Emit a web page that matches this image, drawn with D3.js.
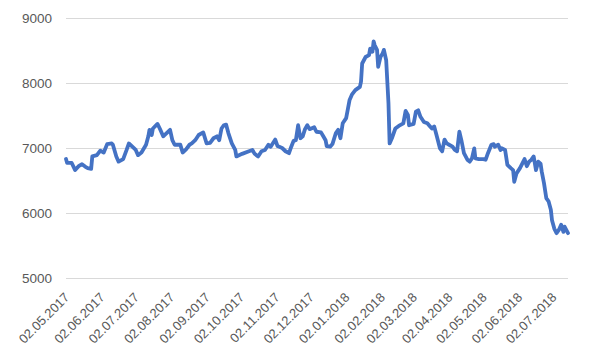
<!DOCTYPE html>
<html>
<head>
<meta charset="utf-8">
<script src="https://cdn.jsdelivr.net/npm/d3@7"></script>
<style>
  body { margin: 0; background: #fff; }
  #area text { font-family: "Liberation Sans", Arial, sans-serif; fill: #595959; }
</style>
</head>
<body>
<div id="area"></div>
<script>
var width = 600, height = 360;
var margin_top = 18, margin_left = 66, margin_right = 32, margin_bottom = 82;

// values
var dates = [
  "2017-05-02","2017-05-03","2017-05-07","2017-05-10","2017-05-13","2017-05-16","2017-05-19","2017-05-21","2017-05-24","2017-05-25",
  "2017-05-29","2017-06-01","2017-06-04","2017-06-07","2017-06-11","2017-06-12","2017-06-15","2017-06-17","2017-06-21","2017-06-24",
  "2017-06-26","2017-06-29","2017-07-02","2017-07-04","2017-07-07","2017-07-11","2017-07-13","2017-07-14","2017-07-16","2017-07-17",
  "2017-07-21","2017-07-23","2017-07-26","2017-07-29","2017-08-01","2017-08-03","2017-08-05","2017-08-10","2017-08-12","2017-08-15",
  "2017-08-18","2017-08-20","2017-08-23","2017-08-26","2017-08-30","2017-09-02","2017-09-05","2017-09-08","2017-09-11","2017-09-13",
  "2017-09-15","2017-09-17","2017-09-19","2017-09-21","2017-09-24","2017-09-27","2017-09-28","2017-10-03","2017-10-09","2017-10-12",
  "2017-10-14","2017-10-17","2017-10-20","2017-10-23","2017-10-26","2017-10-28","2017-11-01","2017-11-03","2017-11-07","2017-11-10",
  "2017-11-13","2017-11-15","2017-11-17","2017-11-19","2017-11-21","2017-11-23","2017-11-25","2017-11-27","2017-11-29","2017-12-01",
  "2017-12-05","2017-12-07","2017-12-11","2017-12-13","2017-12-15","2017-12-16","2017-12-19","2017-12-21","2017-12-24","2017-12-26",
  "2017-12-28","2017-12-30","2018-01-02","2018-01-05","2018-01-07","2018-01-10","2018-01-14","2018-01-15","2018-01-16","2018-01-19",
  "2018-01-22","2018-01-23","2018-01-25","2018-01-26","2018-01-27","2018-01-29","2018-01-30","2018-02-01","2018-02-03","2018-02-04",
  "2018-02-06","2018-02-08","2018-02-09","2018-02-11","2018-02-14","2018-02-17","2018-02-21","2018-02-23","2018-02-25","2018-02-26",
  "2018-03-02","2018-03-04","2018-03-06","2018-03-08","2018-03-11","2018-03-14","2018-03-16","2018-03-18","2018-03-20","2018-03-22",
  "2018-03-25","2018-03-27","2018-03-29","2018-03-31","2018-04-02","2018-04-05","2018-04-07","2018-04-09","2018-04-11","2018-04-13",
  "2018-04-15","2018-04-18","2018-04-20","2018-04-22","2018-04-24","2018-04-25","2018-04-28","2018-05-02","2018-05-04","2018-05-06",
  "2018-05-09","2018-05-11","2018-05-12","2018-05-15","2018-05-17","2018-05-18","2018-05-21","2018-05-23","2018-05-26","2018-05-28",
  "2018-05-29","2018-05-31","2018-06-03","2018-06-05","2018-06-07","2018-06-09","2018-06-11","2018-06-13","2018-06-15","2018-06-17",
  "2018-06-19","2018-06-21","2018-06-22","2018-06-24","2018-06-26","2018-06-28","2018-06-30","2018-07-01","2018-07-03","2018-07-05",
  "2018-07-07","2018-07-09","2018-07-11","2018-07-12","2018-07-15"
];
var values = [
  6830,6770,6770,6660,6720,6750,6710,6690,6680,6870,
  6890,6960,6930,7060,7070,7050,6870,6790,6830,6970,
  7070,7020,6970,6890,6930,7050,7180,7280,7200,7300,
  7370,7300,7180,7230,7280,7120,7050,7050,6930,6980,
  7050,7070,7120,7200,7240,7070,7080,7150,7180,7120,
  7300,7350,7360,7230,7070,6970,6870,6910,6950,6970,
  6910,6870,6950,6970,7050,7020,7130,7030,7000,6950,
  6920,7020,7110,7120,7350,7150,7180,7290,7350,7290,
  7320,7250,7240,7180,7120,7030,7020,7060,7230,7280,
  7150,7380,7460,7740,7820,7890,7940,8020,8300,8400,
  8430,8530,8480,8640,8580,8510,8250,8400,8460,8510,
  8350,7690,7070,7150,7300,7340,7380,7570,7510,7350,
  7370,7560,7580,7480,7400,7380,7340,7300,7330,7200,
  6995,6950,7130,7070,7050,7020,6970,6950,7250,7100,
  6920,6820,6790,6840,6995,6840,6830,6830,6820,6920,
  7050,7060,7020,7050,6970,6995,6970,6740,6690,6660,
  6480,6610,6690,6760,6830,6720,6790,6820,6870,6660,
  6790,6760,6640,6460,6230,6180,6050,5890,5760,5690,
  5740,5820,5710,5790,5690
];
var yTicks = [5000, 6000, 7000, 8000, 9000];
var tickDates = ["2017-05-02","2017-06-02","2017-07-02","2017-08-02","2017-09-02","2017-10-02","2017-11-02",
                 "2017-12-02","2018-01-02","2018-02-02","2018-03-02","2018-04-02","2018-05-02","2018-06-02","2018-07-02"];
var tickLabels = ["02.05.2017","02.06.2017","02.07.2017","02.08.2017","02.09.2017","02.10.2017","02.11.2017",
                  "02.12.2017","02.01.2018","02.02.2018","02.03.2018","02.04.2018","02.05.2018","02.06.2018","02.07.2018"];

var parse = d3.timeParse("%Y-%m-%d");
var data = dates.map(function(d, i) { return { date: parse(d), value: values[i] }; });

var svg = d3.select("#area")
  .append("svg")
    .attr("width", width)
    .attr("height", height);

var x = d3.scaleTime()
  .domain([parse("2017-05-02"), parse("2018-07-15")])
  .range([margin_left, width - margin_right]);

var y = d3.scaleLinear()
  .domain([5000, 9000])
  .range([height - margin_bottom, margin_top]);

// gridlines + y labels
var yAxis = svg.append("g")
  .attr("transform", "translate(" + margin_left + ",0)")
  .call(d3.axisLeft(y).tickValues(yTicks).tickSize(-(width - margin_left - margin_right)).tickPadding(14).tickFormat(d3.format("d")));
yAxis.select(".domain").remove();
yAxis.selectAll(".tick line").attr("stroke", "#d9d9d9").attr("stroke-width", 1);
yAxis.selectAll(".tick text").style("font-size", "13.5px").attr("fill", "#595959");

// x labels, rotated
svg.append("g")
  .selectAll("text")
  .data(tickDates)
  .enter()
  .append("text")
    .attr("transform", function(d) { return "translate(" + (x(parse(d)) + 1) + "," + (height - margin_bottom + 17) + ") rotate(-45)"; })
    .attr("text-anchor", "end")
    .attr("dy", "0.35em")
    .style("font-size", "13px")
    .text(function(d, i) { return tickLabels[i]; });

var line = d3.line()
  .x(function(d) { return x(d.date); })
  .y(function(d) { return y(d.value); });

svg.append("path")
  .datum(data)
  .attr("fill", "none")
  .attr("stroke", "#4472c4")
  .attr("stroke-width", 3.8)
  .attr("stroke-linejoin", "round")
  .attr("stroke-linecap", "round")
  .attr("d", line);
</script>
</body>
</html>
